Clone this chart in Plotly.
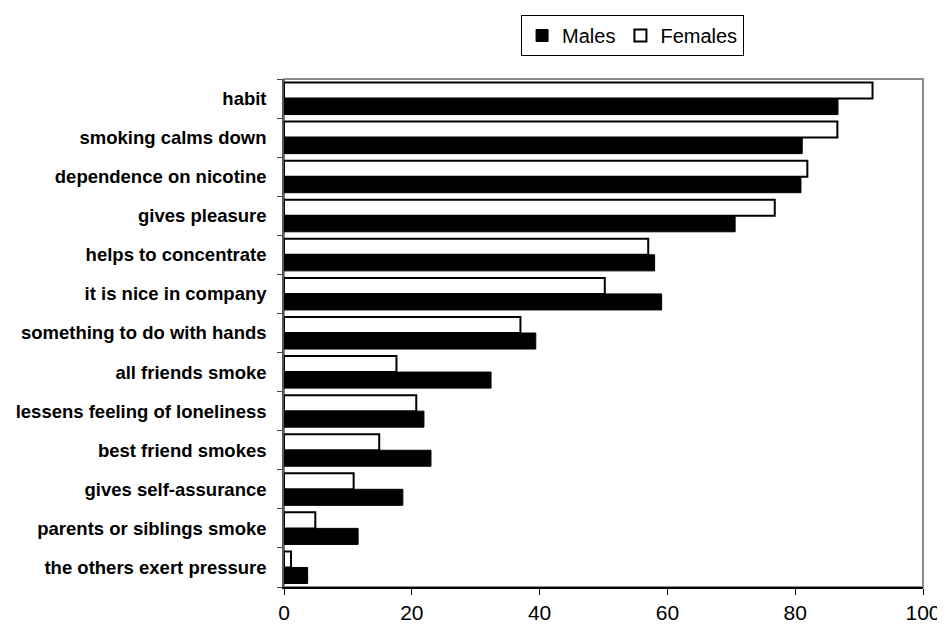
import plotly.graph_objects as go

categories = [
    "habit", "smoking calms down", "dependence on nicotine", "gives pleasure",
    "helps to concentrate", "it is nice in company", "something to do with hands",
    "all friends smoke", "lessens feeling of loneliness", "best friend smokes",
    "gives self-assurance", "parents or siblings smoke", "the others exert pressure",
]
males = [86.7, 81.1, 80.9, 70.6, 58.0, 59.1, 39.4, 32.4, 21.9, 23.0, 18.6, 11.6, 3.7]
females = [92.1, 86.6, 81.9, 76.8, 57.0, 50.2, 37.0, 17.6, 20.7, 14.9, 10.9, 4.9, 1.1]
x_ticks = [0, 20, 40, 60, 80, 100]

FONT = "Liberation Sans, Arial, sans-serif"

fig = go.Figure()
fig.add_trace(go.Bar(
    y=categories, x=males, orientation="h", name="Males",
    marker=dict(color="black", line=dict(color="black", width=1)),
))
fig.add_trace(go.Bar(
    y=categories, x=females, orientation="h", name="Females",
    marker=dict(color="white", line=dict(color="black", width=2)),
))

# page has an 8px body margin; figure is sized/margined to compensate
fig.update_layout(
    width=937, height=619,
    paper_bgcolor="white", plot_bgcolor="white",
    margin=dict(l=276, r=22, t=71, b=40, autoexpand=False),
    barmode="group", bargap=0.18, bargroupgap=0.0,
    font=dict(family=FONT, color="black"),
    showlegend=True,
    legend=dict(
        orientation="h", x=0.371, xanchor="left", y=1.126, yanchor="top",
        bordercolor="black", borderwidth=1, font=dict(size=20, family=FONT),
        traceorder="normal", itemwidth=30, tracegroupgap=0,
        bgcolor="white",
    ),
    xaxis=dict(
        range=[0, 100], tickvals=x_ticks, ticks="outside", ticklen=6,
        tickcolor="black", showgrid=False, zeroline=False,
        showline=True, linecolor="black", linewidth=1.5,
        tickfont=dict(size=21, family=FONT), fixedrange=True,
    ),
    yaxis=dict(
        categoryorder="array", categoryarray=categories[::-1],
        ticks="outside", ticklen=5, tickcolor="#444444", tickson="boundaries",
        showline=True, linecolor="#555555", linewidth=1.5, showgrid=False,
        tickfont=dict(size=18.5, family=FONT, weight="bold"),
        ticklabelstandoff=12, fixedrange=True,
    ),
    shapes=[dict(
        type="rect", xref="paper", yref="paper", x0=0, x1=1, y0=0, y1=1,
        line=dict(color="#8c8c8c", width=2), layer="below",
    )],
)

fig.write_html("out.html")
